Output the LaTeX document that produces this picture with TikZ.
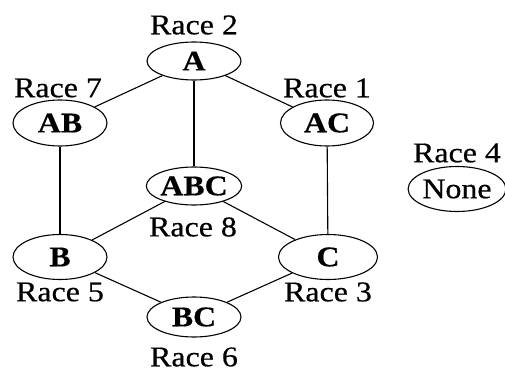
\documentclass[tikz,border=0pt]{standalone}
\usepackage{fontspec}
\setmainfont{Liberation Serif}[FakeStretch=1.12, FakeBold=0.5]
\usetikzlibrary{shapes.geometric}
\tikzset{
  ell/.style={draw, ellipse, inner sep=0pt, line width=1.1pt,
    font=\fontsize{28.5}{30}\selectfont\bfseries},
  lab/.style={inner sep=0pt, font=\fontsize{28.5}{30}\selectfont},
  edge/.style={line width=1.1pt}
}
\begin{document}
\begin{tikzpicture}[x=1pt,y=-1pt]
\useasboundingbox (0,0) rectangle (505,374);
\node[ell, minimum width=94pt, minimum height=38pt] (A) at (194,61) {A};
\node[ell, minimum width=94pt, minimum height=46pt] (AB) at (60,123) {AB};
\node[ell, minimum width=93pt, minimum height=46pt] (AC) at (327,123) {AC};
\node[ell, minimum width=94pt, minimum height=38pt] (ABC) at (194,186) {ABC};
\node[ell, minimum width=94pt, minimum height=45pt] (B) at (60,257) {B};
\node[ell, minimum width=99pt, minimum height=45pt] (C) at (328,257) {C};
\node[ell, minimum width=94pt, minimum height=40pt] (BC) at (194,317) {BC};
\node[ell, minimum width=89pt, minimum height=45pt, font=\fontsize{28.5}{30}\selectfont] (N) at (457,189) {None};

\node[lab] (l2) at (194,25) {Race 2};
\node[lab] (l7) at (58,88) {Race 7};
\node[lab] (l1) at (327,88) {Race 1};
\node[lab] (l4) at (457,153) {Race 4};
\node[lab] (l8) at (193,227) {Race 8};
\node[lab] (l5) at (60,292) {Race 5};
\node[lab] (l3) at (328,292) {Race 3};
\node[lab] (l6) at (194,357) {Race 6};

\draw[edge] (A) -- (AB);
\draw[edge] (A) -- (AC);
\draw[edge] (A) -- (ABC);
\draw[edge] (AB) -- (B);
\draw[edge] (AC) -- (C);
\draw[edge] (ABC) -- (B);
\draw[edge] (ABC) -- (C);
\draw[edge] (B) -- (BC);
\draw[edge] (C) -- (BC);
\end{tikzpicture}
\end{document}
